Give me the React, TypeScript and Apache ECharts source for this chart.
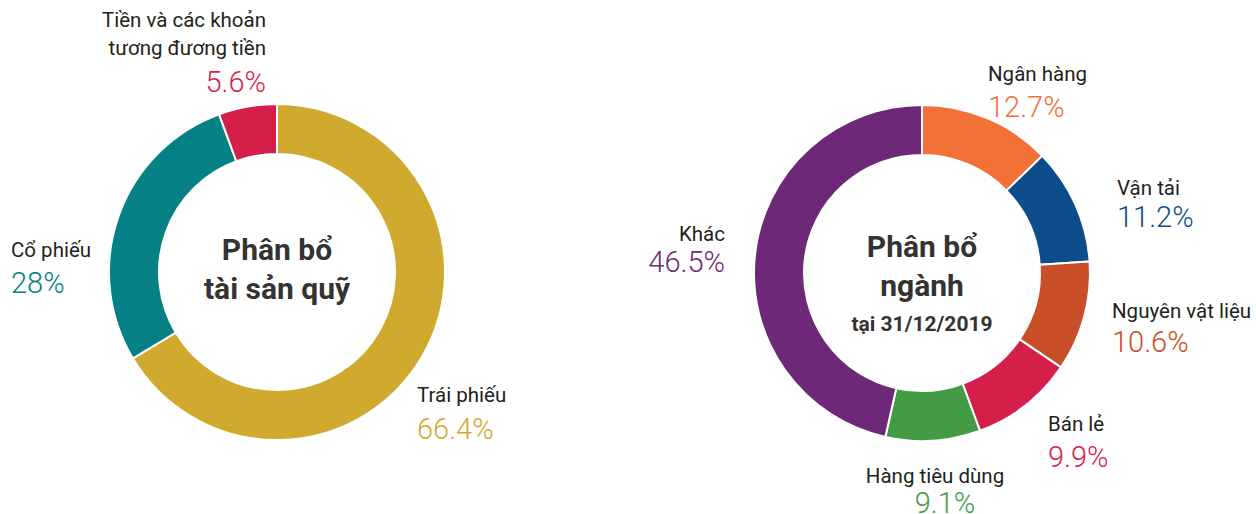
import React, { useEffect, useRef } from "react";
import * as echarts from "echarts";

const leftNames = ["Trái phiếu", "Cổ phiếu", "Tiền và các khoản\ntương đương tiền"];
const leftValues = [66.4, 28, 5.6];
const leftColors = ["#CFAA2E", "#058186", "#D41F4B"];

const rightNames = ["Ngân hàng", "Vận tải", "Nguyên vật liệu", "Bán lẻ", "Hàng tiêu dùng", "Khác"];
const rightValues = [12.7, 11.2, 10.6, 9.9, 9.1, 46.5];
const rightColors = ["#F37037", "#0E4D8C", "#C84F28", "#D41F4B", "#449B46", "#6E2878"];

const leftTitle = "Phân bổ\ntài sản quỹ";
const rightTitle = "Phân bổ\nngành";
const rightSubtitle = "tại 31/12/2019";

// label anchor placement (layout only)
const leftLabelPos = [
  { x: 417, y: 381, align: "left", vlh: 40, pad: 0 },
  { x: 11, y: 236, align: "left", vlh: 38, pad: 0 },
  { x: 266, y: 6, align: "right", vlh: 40, pad: 0 },
];
const rightLabelPos = [
  { x: 988, y: 60, align: "left", vlh: 38, pad: 0 },
  { x: 1117, y: 174, align: "left", vlh: 30, pad: 0 },
  { x: 1112, y: 297, align: "left", vlh: 34, pad: 0 },
  { x: 1048, y: 410, align: "left", vlh: 38, pad: 0 },
  { x: 935, y: 462, align: "center", vlh: 26, pad: 20 },
  { x: 725, y: 220, align: "right", vlh: 28, pad: 0 },
];

const FONT = "Roboto, 'Noto Sans', sans-serif";

function buildData(names: string[], values: number[], colors: string[], pos: any[]) {
  return names.map((n, i) => ({
    name: n,
    value: values[i],
    itemStyle: { color: colors[i] },
    label: {
      rich: {
        n: { fontFamily: FONT, fontSize: 20.5, fontWeight: 400, color: "#231F20", lineHeight: 28, align: pos[i].align },
        v: {
          fontFamily: FONT,
          fontSize: 29,
          fontWeight: 300,
          color: colors[i],
          lineHeight: pos[i].vlh,
          align: pos[i].align,
          padding: [0, 0, 0, pos[i].pad],
        },
      },
    },
  }));
}

function makeSeries(data: any[], center: number[], pos: any[]) {
  return {
    type: "pie",
    center,
    radius: [118, 168],
    startAngle: 90,
    clockwise: true,
    avoidLabelOverlap: false,
    silent: true,
    itemStyle: { borderColor: "#fff", borderWidth: 2 },
    label: {
      show: true,
      position: "outside",
      formatter: (p: any) => `{n|${p.name}}\n{v|${p.value}%}`,
    },
    labelLine: { show: false },
    labelLayout: (params: any) => {
      const p = pos[params.dataIndex];
      return { x: p.x, y: p.y, align: p.align, verticalAlign: "top" };
    },
    data,
  };
}

export default function App() {
  const ref = useRef<HTMLDivElement>(null);
  useEffect(() => {
    if (!ref.current) return;
    const chart = echarts.init(ref.current, undefined, { renderer: "svg" });
    const leftCenter = [277, 272];
    const rightCenter = [922, 273];
    chart.setOption({
      animation: false,
      backgroundColor: "#fff",
      series: [
        makeSeries(buildData(leftNames, leftValues, leftColors, leftLabelPos), leftCenter, leftLabelPos),
        makeSeries(buildData(rightNames, rightValues, rightColors, rightLabelPos), rightCenter, rightLabelPos),
      ],
      graphic: [
        {
          type: "text",
          x: leftCenter[0],
          y: 269,
          style: {
            text: leftTitle,
            align: "center",
            verticalAlign: "middle",
            fontFamily: FONT,
            fontSize: 30,
            fontWeight: 700,
            lineHeight: 39,
            fill: "#333333",
          },
        },
        {
          type: "text",
          x: rightCenter[0],
          y: 266,
          style: {
            text: rightTitle,
            align: "center",
            verticalAlign: "middle",
            fontFamily: FONT,
            fontSize: 30,
            fontWeight: 700,
            lineHeight: 39,
            fill: "#333333",
          },
        },
        {
          type: "text",
          x: rightCenter[0],
          y: 324,
          style: {
            text: rightSubtitle,
            align: "center",
            verticalAlign: "middle",
            fontFamily: FONT,
            fontSize: 21,
            fontWeight: 700,
            fill: "#333333",
          },
        },
      ],
    });
    return () => chart.dispose();
  }, []);
  return (
    <div
      ref={ref}
      style={{ position: "fixed", left: 0, top: 0, width: 1256, height: 514, background: "#fff" }}
    />
  );
}
